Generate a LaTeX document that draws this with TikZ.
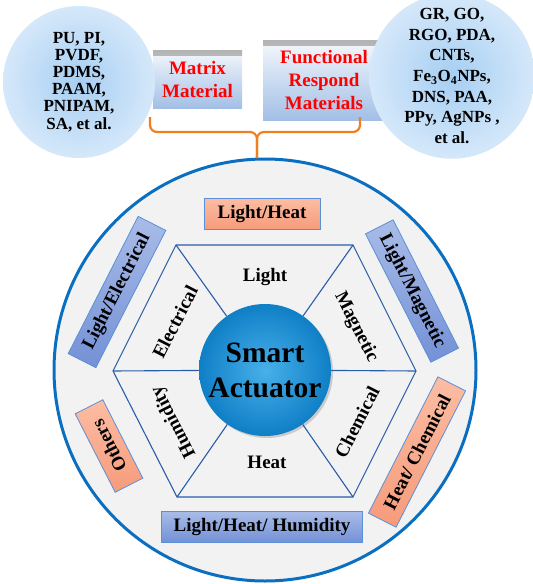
\documentclass[tikz,border=0pt]{standalone}
\usepackage{fontspec}
\setmainfont{Liberation Serif}
\usetikzlibrary{shadows}
\definecolor{ringfill}{HTML}{F2F2F2}
\definecolor{ringedge}{HTML}{0B6FC1}
\definecolor{hexedge}{HTML}{2A5DA8}
\definecolor{corein}{HTML}{48B0EA}
\definecolor{coreout}{HTML}{0F7FC6}
\definecolor{bandedge}{HTML}{5B8FD8}
\definecolor{blueTop}{HTML}{A9BCE8}
\definecolor{blueBot}{HTML}{7491D6}
\definecolor{salmonTop}{HTML}{FCBDA3}
\definecolor{salmonBot}{HTML}{F69B7B}
\definecolor{poolin}{HTML}{A6CEF2}
\definecolor{poolout}{HTML}{D5E8FA}
\definecolor{tagTop}{HTML}{F4F8FC}
\definecolor{tagBot}{HTML}{A3BFE6}
\definecolor{braceorange}{HTML}{F07F20}
\begin{document}
\begin{tikzpicture}[
x=1pt, y=-1pt,
ring/.style={circle, draw=ringedge, line width=3pt, fill=ringfill, minimum size=422pt, inner sep=0pt},
hexline/.style={draw=hexedge, line width=1.1pt},
core/.style={circle, inner color=corein, outer color=coreout, minimum size=132pt, inner sep=0pt, drop shadow={opacity=0.35, shadow xshift=2pt, shadow yshift=-2pt}, font=\fontsize{29.5}{35}\selectfont\bfseries, align=center},
sector/.style={font=\fontsize{19}{22}\selectfont\bfseries, inner sep=0pt},
band/.style={draw=bandedge, line width=0.8pt, minimum height=31pt, inner sep=0pt, font=\fontsize{19}{22}\selectfont\bfseries},
blueband/.style={band, top color=blueTop, bottom color=blueBot},
salmonband/.style={band, top color=salmonTop, bottom color=salmonBot},
pool/.style={circle, inner color=poolin, outer color=poolout, minimum size=152pt, inner sep=0pt, align=center},
headbox/.style={rectangle, top color=tagTop, bottom color=tagBot, inner sep=0pt, align=center, text=red, font=\fontsize{19}{23}\selectfont\bfseries,
  path picture={\shade[top color=gray!60, bottom color=tagTop] (path picture bounding box.north west) rectangle ([yshift=-5pt]path picture bounding box.north east);}},
brace/.style={draw=braceorange, line width=2.2pt, rounded corners=7pt}
]
\useasboundingbox (0,0) rectangle (533,584);

% outer disc and hexagon
\node (ring) [ring] at (265,370) {};
\coordinate (hexW) at (113,371);
\coordinate (hexNW) at (176,245);
\coordinate (hexNE) at (353,245);
\coordinate (hexE) at (416,371);
\coordinate (hexSE) at (353,497);
\coordinate (hexSW) at (177,497);
\draw [hexline] (hexW) -- (hexNW) -- (hexNE) -- (hexE) -- (hexSE) -- (hexSW) -- cycle;

\node (act) [core] at (265,370) {Smart\\Actuator};
\foreach \v in {hexW,hexNW,hexNE,hexE,hexSE,hexSW}
  \draw [hexline] (\v) -- (act);

% stimuli in the hexagon
\node (light) [sector] at (265,277) {Light};
\node (heat) [sector] at (267,462) {Heat};
\node (elec) [sector, rotate=63] at (175,322) {Electrical};
\node (magn) [sector, rotate=-63] at (356,327) {Magnetic};
\node (chem) [sector, rotate=63] at (357,422) {Chemical};
\node (humi) [sector, rotate=117] at (174,422) {Humidity};

% combined stimuli round the ring
\node (lh) [salmonband, minimum width=116pt] at (262,214) {Light/Heat};
\node (le) [blueband, minimum width=154pt, rotate=63] at (117,292) {Light/Electrical};
\node (lm) [blueband, minimum width=144pt, rotate=-63] at (412,291) {Light/Magnetic};
\node (oth) [salmonband, minimum width=88pt, rotate=117] at (109,446) {Others};
\node (hc) [salmonband, minimum width=153pt, rotate=63] at (417,452) {Heat/ Chemical};
\node (lhh) [blueband, minimum width=201pt] at (262,527) {Light/Heat/ Humidity};

% materials on top
\node (matrix) [headbox, minimum width=89pt, minimum height=58pt] at (197.5,79) {Matrix\\Material};
\node (func) [headbox, minimum width=122pt, minimum height=80pt] at (324,80) {Functional\\Respond\\Materials};
\node (poolL) [pool, font=\fontsize{17}{17.1}\selectfont\bfseries] at (79,82) {PU, PI,\\PVDF,\\PDMS,\\PAAM,\\PNIPAM,\\SA, et al.};
\node (poolR) [pool, font=\fontsize{17}{20.6}\selectfont\bfseries] at (452,76) {GR, GO,\\RGO, PDA,\\CNTs,\\Fe\textsubscript{3}O\textsubscript{4}NPs,\\DNS, PAA,\\PPy, AgNPs ,\\et al.};

\coordinate (braceL) at (150,117);
\coordinate (braceR) at (360,117);
\coordinate (braceMid) at (257,132);
\coordinate (braceTip) at (257,158);
\draw [brace] (braceL) |- (braceMid) -- (braceTip);
\draw [brace] (braceR) |- (braceMid) -- (braceTip);
\end{tikzpicture}
\end{document}
